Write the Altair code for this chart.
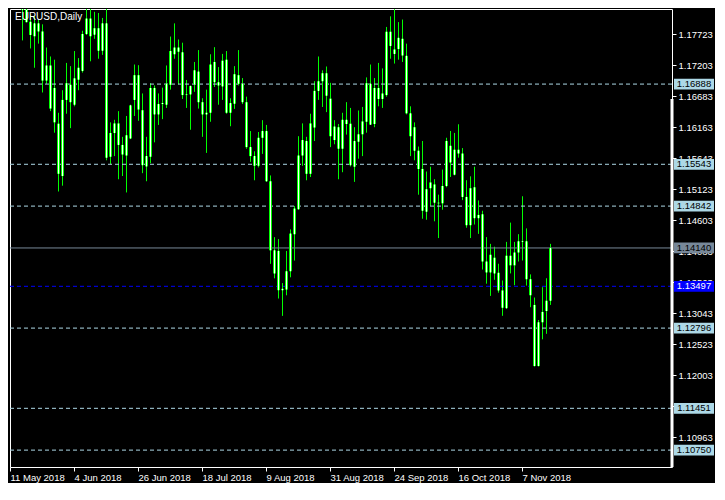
import json
import altair as alt
import pandas as pd

# ---------------- data (EURUSD daily) ----------------
date_labels = ["11 May 2018", "4 Jun 2018", "26 Jun 2018", "18 Jul 2018", "9 Aug 2018",
               "31 Aug 2018", "24 Sep 2018", "16 Oct 2018", "7 Nov 2018"]
date_label_bars = [0, 16, 32, 48, 64, 80, 96, 112, 128]

opens = [1.19170, 1.19420, 1.19270, 1.18360, 1.18132, 1.17933, 1.17690, 1.17906, 1.17771, 1.16946,
         1.17200, 1.16822, 1.16224, 1.15346, 1.16623, 1.16876, 1.16542, 1.16962, 1.17108, 1.17728,
         1.17987, 1.17717, 1.17825, 1.17448, 1.17906, 1.15669, 1.16068, 1.16229, 1.15868, 1.15690,
         1.15976, 1.16623, 1.17038, 1.16450, 1.15507, 1.15669, 1.16822, 1.16380, 1.16553, 1.16542,
         1.16876, 1.17388, 1.17501, 1.17421, 1.16704, 1.16715, 1.16882, 1.17097, 1.16585, 1.16380,
         1.16407, 1.17259, 1.16919, 1.16849, 1.17297, 1.16407, 1.16558, 1.17038, 1.16892, 1.16585,
         1.15831, 1.15680, 1.15518, 1.15987, 1.16100, 1.15259, 1.13712, 1.14090, 1.13432, 1.13443,
         1.13750, 1.14370, 1.14790, 1.15690, 1.15933, 1.15383, 1.16159, 1.16774, 1.16936, 1.17070,
         1.16644, 1.15949, 1.16165, 1.15804, 1.16289, 1.16224, 1.15502, 1.15922, 1.16046, 1.16256,
         1.16892, 1.16219, 1.16822, 1.16639, 1.16704, 1.17766, 1.17394, 1.17475, 1.17647, 1.17361,
         1.16397, 1.16165, 1.15771, 1.15465, 1.14748, 1.15142, 1.15206, 1.14899, 1.14888, 1.15179,
         1.15853, 1.15368, 1.15788, 1.15724, 1.14996, 1.14522, 1.15158, 1.14640, 1.14705, 1.13913,
         1.13730, 1.13977, 1.13724, 1.13428, 1.13131, 1.14010, 1.13848, 1.14064, 1.14252, 1.14252,
         1.13616, 1.13185, 1.12161, 1.12894, 1.13083, 1.13255]
highs = [1.19740, 1.19960, 1.19370, 1.18420, 1.18300, 1.18051, 1.18024, 1.17970, 1.17890, 1.17501,
         1.17351, 1.17297, 1.16407, 1.16785, 1.17243, 1.17189, 1.17442, 1.17324, 1.17782, 1.18400,
         1.18150, 1.18100, 1.18080, 1.17997, 1.18520, 1.16246, 1.16289, 1.16434, 1.16003, 1.16353,
         1.16542, 1.17216, 1.17205, 1.16731, 1.16003, 1.16903, 1.16865, 1.16731, 1.16828, 1.17200,
         1.17685, 1.17906, 1.17636, 1.17582, 1.16957, 1.16865, 1.17259, 1.17458, 1.16650, 1.16795,
         1.17388, 1.17507, 1.17173, 1.17394, 1.17442, 1.16650, 1.17189, 1.17458, 1.16989, 1.16677,
         1.16100, 1.15761, 1.16084, 1.16283, 1.16203, 1.15356, 1.14321, 1.14289, 1.13551, 1.14090,
         1.14451, 1.14844, 1.16014, 1.16229, 1.16003, 1.16391, 1.16936, 1.17351, 1.17119, 1.17183,
         1.16909, 1.16283, 1.16219, 1.16407, 1.16585, 1.16488, 1.16165, 1.16445, 1.16504, 1.17000,
         1.17216, 1.16989, 1.17243, 1.17151, 1.17846, 1.18024, 1.18143, 1.17927, 1.17970, 1.17566,
         1.16515, 1.16246, 1.15841, 1.15934, 1.15422, 1.15503, 1.15293, 1.15034, 1.15454, 1.15988,
         1.16101, 1.16069, 1.16214, 1.15815, 1.15276, 1.15341, 1.15503, 1.14937, 1.14764, 1.14322,
         1.14209, 1.14161, 1.13875, 1.13595, 1.14242, 1.14565, 1.14242, 1.14371, 1.15007, 1.14468,
         1.13697, 1.13309, 1.12932, 1.13482, 1.13632, 1.14209]
lows = [1.19100, 1.19220, 1.18220, 1.17620, 1.17916, 1.17485, 1.17162, 1.17566, 1.16747, 1.16892,
        1.16434, 1.16073, 1.15087, 1.15184, 1.16391, 1.16149, 1.16515, 1.16785, 1.17081, 1.17712,
        1.17270, 1.17647, 1.17313, 1.17378, 1.15610, 1.15545, 1.15680, 1.15292, 1.15346, 1.15071,
        1.15965, 1.16353, 1.16273, 1.15394, 1.15259, 1.15561, 1.15911, 1.16203, 1.16300, 1.16488,
        1.16795, 1.17313, 1.16882, 1.16639, 1.16488, 1.16122, 1.16758, 1.16477, 1.16003, 1.15734,
        1.16256, 1.16839, 1.16542, 1.16623, 1.16391, 1.16181, 1.16472, 1.16865, 1.16553, 1.15804,
        1.15583, 1.15275, 1.15491, 1.15717, 1.15248, 1.13874, 1.13631, 1.13292, 1.13001, 1.13346,
        1.13648, 1.13928, 1.14780, 1.15518, 1.15275, 1.15329, 1.15933, 1.16623, 1.16504, 1.16418,
        1.15831, 1.15879, 1.15292, 1.15410, 1.16041, 1.15507, 1.15248, 1.15637, 1.15680, 1.16073,
        1.16203, 1.16165, 1.16515, 1.16488, 1.16677, 1.17313, 1.17232, 1.17297, 1.17259, 1.16380,
        1.15680, 1.15610, 1.15033, 1.14630, 1.14613, 1.14845, 1.14587, 1.14306, 1.14781, 1.15158,
        1.15330, 1.15357, 1.15654, 1.14942, 1.14479, 1.14306, 1.14533, 1.14376, 1.13778, 1.13541,
        1.13336, 1.13606, 1.13390, 1.13002, 1.13120, 1.13713, 1.13514, 1.13913, 1.13929, 1.13509,
        1.13147, 1.12150, 1.12150, 1.12608, 1.12700, 1.13185]
closes = [1.19420, 1.19270, 1.18360, 1.18132, 1.17927, 1.17712, 1.17906, 1.17771, 1.16946, 1.17200,
          1.16477, 1.16246, 1.15383, 1.16623, 1.16903, 1.16585, 1.16984, 1.17162, 1.17728, 1.17987,
          1.17690, 1.17825, 1.17448, 1.17906, 1.15653, 1.16068, 1.16229, 1.15868, 1.15707, 1.16030,
          1.16531, 1.17038, 1.16461, 1.15529, 1.15680, 1.16822, 1.16380, 1.16553, 1.16569, 1.16892,
          1.17442, 1.17501, 1.17431, 1.16704, 1.16715, 1.16855, 1.17119, 1.16585, 1.16380, 1.16407,
          1.17216, 1.16919, 1.16865, 1.17281, 1.16407, 1.16569, 1.17054, 1.16892, 1.16585, 1.15831,
          1.15680, 1.15518, 1.15987, 1.16100, 1.15259, 1.14100, 1.14100, 1.13432, 1.13454, 1.13750,
          1.14381, 1.14801, 1.15690, 1.15949, 1.15383, 1.16229, 1.16774, 1.16936, 1.17070, 1.16693,
          1.16014, 1.16176, 1.15804, 1.16289, 1.16219, 1.15529, 1.15933, 1.16046, 1.16262, 1.16903,
          1.16208, 1.16822, 1.16639, 1.16731, 1.17766, 1.17528, 1.17469, 1.17663, 1.17367, 1.16397,
          1.16014, 1.15771, 1.15464, 1.14764, 1.15126, 1.15239, 1.14899, 1.14888, 1.15179, 1.15934,
          1.15573, 1.15788, 1.15724, 1.14996, 1.14522, 1.15142, 1.14640, 1.14694, 1.13913, 1.13730,
          1.14026, 1.13713, 1.13428, 1.13137, 1.14010, 1.13848, 1.14064, 1.14252, 1.14242, 1.13616,
          1.13347, 1.12161, 1.12894, 1.13067, 1.13255, 1.14140]

price_ticks = [1.17723, 1.17203, 1.16683, 1.16163, 1.15643, 1.15123, 1.14603, 1.14083,
               1.13563, 1.13043, 1.12523, 1.12003, 1.11483, 1.10963]

level_prices = [1.16888, 1.15543, 1.14842, 1.12796, 1.11451, 1.10750, 1.13497, 1.14140]
level_kinds = ["level", "level", "level", "level", "level", "level", "pivot", "bid"]

title_text = "EURUSD,Daily"

# ---------------- layout ----------------
W, H = 662, 458
FONT = "Liberation Sans"
FS = 9.5
GREEN = "#00FF00"
LIGHT = "#ADD8E6"

df = pd.DataFrame({"bar": list(range(len(opens))), "open": opens, "high": highs,
                   "low": lows, "close": closes})
lv = pd.DataFrame({"price": level_prices, "kind": level_kinds})

xsc = alt.Scale(domain=[0, 165.5], nice=False, zero=False, padding=0)
ysc = alt.Scale(domain=[1.10467, 1.18147], nice=False, zero=False, padding=0)

label_expr = json.dumps(date_labels) + "[round(datum.value / 16)]"
xaxis = alt.Axis(orient="bottom", values=date_label_bars, labelExpr=label_expr,
                 labelAlign="left", labelColor="white", labelFont=FONT, labelFontSize=FS,
                 labelPadding=1, labelFlush=False, labelOverlap=False,
                 tickColor="white", tickSize=4, domain=False, grid=False, title=None)
yaxis = alt.Axis(orient="right", values=price_ticks, format=".5f", labelColor="white",
                 labelFont=FONT, labelFontSize=FS, labelPadding=2, labelOverlap=False,
                 tickColor="white", tickSize=4, domain=False, grid=False, title=None)

kind_scale = alt.Scale(domain=["level", "pivot", "bid"], range=[LIGHT, "#0000FF", "#778899"])
text_scale = alt.Scale(domain=["level", "pivot", "bid"], range=["#000000", "#FFFFFF", "#000000"])


def X(field):
    return alt.X(field, scale=xsc, axis=xaxis)


def Y(field):
    return alt.Y(field, scale=ysc, axis=yaxis)


base = alt.Chart(df)

wicks = base.mark_rule(color=GREEN, strokeWidth=1, clip=True, xOffset=0.5).encode(
    x=X("bar:Q"), y=Y("low:Q"), y2="high:Q",
)

level_lines = alt.Chart(lv).transform_filter("datum.kind != 'bid'").mark_rule(
    strokeDash=[4, 3], strokeWidth=1, clip=True
).encode(
    x=alt.value(0), x2=alt.value(W),
    y=Y("price:Q"),
    color=alt.Color("kind:N", scale=kind_scale, legend=None),
)

bid_line = alt.Chart(lv).transform_filter("datum.kind == 'bid'").mark_rule(
    strokeWidth=1, clip=True
).encode(
    x=alt.value(0), x2=alt.value(W),
    y=Y("price:Q"),
    color=alt.Color("kind:N", scale=kind_scale, legend=None),
)

bodies_outer = base.mark_bar(size=3, color=GREEN, clip=True, xOffset=0.5).encode(
    x=X("bar:Q"), y=Y("open:Q"), y2="close:Q",
)
bodies_inner = base.mark_bar(size=1, color="white", clip=True, xOffset=0.5).encode(
    x=X("bar:Q"), y=Y("open:Q"), y2="close:Q",
)

right_bar = alt.Chart(pd.DataFrame({"a": [0]})).mark_rule(color="white", strokeWidth=3).encode(
    x=alt.value(W), y=alt.value(90), y2=alt.value(H)
)

tag_boxes = alt.Chart(lv).mark_point(
    shape="M-1,-0.27L1,-0.27L1,0.27L-1,0.27Z", filled=True, opacity=1, size=1600, clip=False
).encode(
    x=alt.value(W + 22),
    y=Y("price:Q"),
    color=alt.Color("kind:N", scale=kind_scale, legend=None),
)

tag_text = alt.Chart(lv).mark_text(
    font=FONT, fontSize=FS, align="center", baseline="middle", clip=False
).encode(
    x=alt.value(W + 22),
    y=Y("price:Q"),
    text=alt.Text("price:Q", format=".5f"),
    color=alt.Color("kind:N", scale=text_scale, legend=None),
)

title = alt.Chart(pd.DataFrame({"t": [title_text]})).mark_text(
    font=FONT, fontSize=10, color="white", align="left", baseline="middle"
).encode(x=alt.value(5), y=alt.value(8), text="t:N")

chart = alt.layer(
    wicks, level_lines, bid_line, bodies_outer, bodies_inner, right_bar, tag_boxes, tag_text,
    title
).resolve_scale(color="independent").properties(
    width=W, height=H, background="black",
    padding={"left": 1, "top": 1, "right": 1, "bottom": 1},
).configure_view(stroke="white", strokeWidth=1, fill="black").configure_axis(
    labelOverlap=False
)

chart.save("out.html", embed_options={"renderer": "svg", "actions": False})
